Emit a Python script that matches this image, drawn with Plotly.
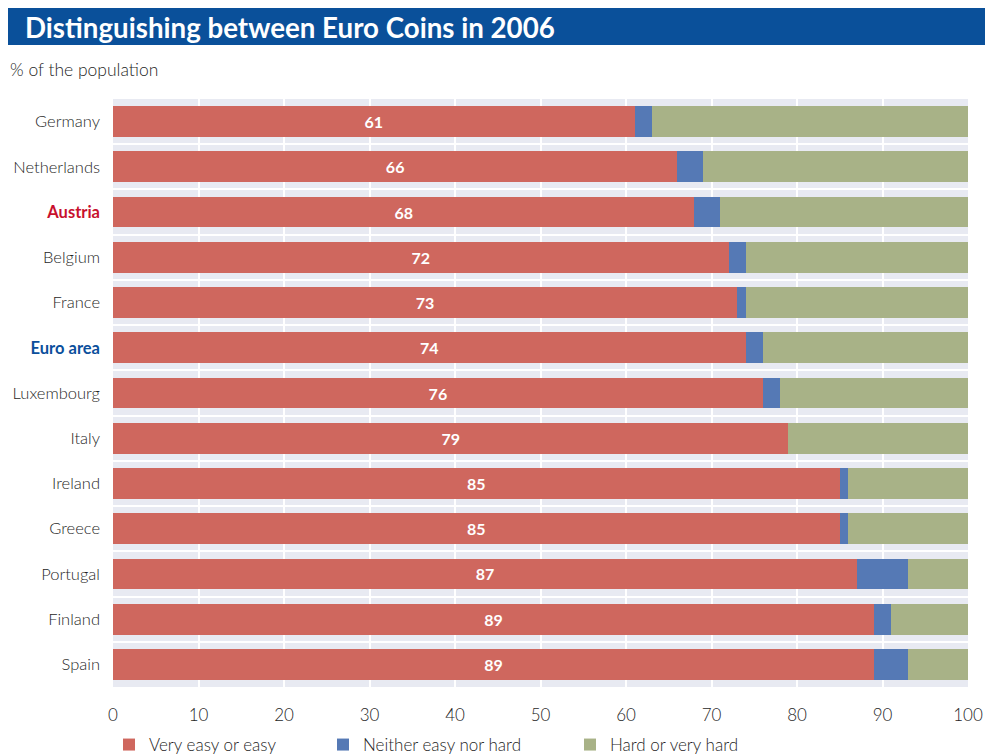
import plotly.graph_objects as go

countries = ["Germany", "Netherlands", "Austria", "Belgium", "France", "Euro area",
             "Luxembourg", "Italy", "Ireland", "Greece", "Portugal", "Finland", "Spain"]
easy = [61, 66, 68, 72, 73, 74, 76, 79, 85, 85, 87, 89, 89]
neither = [2, 3, 3, 2, 1, 2, 2, 0, 1, 1, 6, 2, 4]
hard = [37, 31, 29, 26, 26, 24, 22, 21, 14, 14, 7, 9, 7]
x_ticks = [0, 10, 20, 30, 40, 50, 60, 70, 80, 90, 100]

label_colors = {"Austria": "#C8102E", "Euro area": "#0B4F9C"}

def styled(name):
    if name in label_colors:
        return f"<span style='color:{label_colors[name]};font-weight:bold'>{name}</span>"
    return name

FONT = "Lato"
TEXT = "#1f1f1f"
RED, BLUE, GREEN = "#CF675E", "#5579B5", "#A8B287"

L, R, T, B = 113, 17, 99, 69
W, H = 985, 756
pw, ph = W - L - R, H - T - B

def px_x(p):
    return (p - L) / pw

def px_y(p):
    return (H - B - p) / ph

fig = go.Figure()
fig.add_trace(go.Bar(
    y=countries, x=easy, orientation="h", name="Very easy or easy",
    marker=dict(color=RED, line=dict(width=0)), legend="legend",
    text=[str(v) for v in easy], textposition="inside", insidetextanchor="middle",
    textfont=dict(color="white", size=16, family=FONT, weight="bold"), textangle=0,
))
fig.add_trace(go.Bar(
    y=countries, x=neither, orientation="h", name="Neither easy nor hard",
    marker=dict(color=BLUE, line=dict(width=0)), legend="legend2",
))
fig.add_trace(go.Bar(
    y=countries, x=hard, orientation="h", name="Hard or very hard",
    marker=dict(color=GREEN, line=dict(width=0)), legend="legend3",
))

fig.add_shape(type="rect", xref="paper", yref="paper",
              x0=px_x(8), x1=px_x(985), y0=px_y(45), y1=px_y(8),
              fillcolor="#0A509A", line=dict(width=0), layer="above")
fig.add_annotation(xref="paper", yref="paper", x=px_x(23), y=px_y(27),
                   xanchor="left", yanchor="middle", showarrow=False,
                   text="<b>Distinguishing between Euro Coins in 2006</b>",
                   font=dict(family=FONT, size=27.7, color="white"))
fig.add_annotation(xref="paper", yref="paper", x=px_x(8), y=px_y(69),
                   xanchor="left", yanchor="middle", showarrow=False,
                   text="% of the population",
                   font=dict(family=FONT, size=17.5, color=TEXT, weight=300))

def legend_at(x_px):
    return dict(orientation="h", xref="container", yref="container",
                x=x_px / W, xanchor="left", y=1 - 745 / H, yanchor="middle",
                font=dict(family=FONT, size=17, color=TEXT, weight=300),
                bgcolor="rgba(0,0,0,0)")

fig.update_layout(
    width=W, height=H,
    margin=dict(l=L, r=R, t=T, b=B, pad=0, autoexpand=False),
    barmode="stack", bargap=0.32,
    paper_bgcolor="white", plot_bgcolor="#E8EAF2",
    font=dict(family=FONT, size=16, color=TEXT),
    showlegend=True,
    legend=legend_at(109),
    legend2=legend_at(323),
    legend3=legend_at(570),
    xaxis=dict(range=[0, 100], tickvals=x_ticks, showgrid=True, gridcolor="white",
               gridwidth=2, zeroline=False, showline=False, ticks="", automargin=False,
               ticklabelstandoff=16,
               tickfont=dict(size=17, color=TEXT, weight=300)),
    yaxis=dict(type="category", categoryorder="array", categoryarray=countries,
               autorange="reversed", tickvals=countries,
               ticktext=[styled(c) for c in countries], automargin=False,
               tickson="boundaries", showgrid=True, gridcolor="white", gridwidth=2,
               ticks="", showline=False, zeroline=False, ticklabelstandoff=12,
               tickfont=dict(size=16.5, color=TEXT, weight=300)),
)

fig.write_html("out.html")
